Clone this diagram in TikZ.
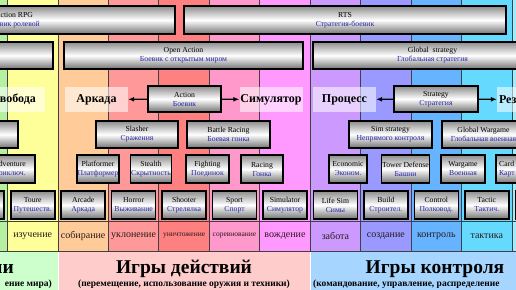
\documentclass[tikz,border=0pt]{standalone}
\usepackage{fontspec}
\setmainfont{Liberation Serif}
\usetikzlibrary{arrows.meta}
\definecolor{cm1}{HTML}{B4F0A0}
\definecolor{c0}{HTML}{FFFF99}
\definecolor{c1}{HTML}{FFCC99}
\definecolor{c2}{HTML}{FF9999}
\definecolor{c3}{HTML}{FF8080}
\definecolor{c4}{HTML}{FF99CC}
\definecolor{c5}{HTML}{FF99FF}
\definecolor{c6}{HTML}{CC99FF}
\definecolor{c7}{HTML}{9999FF}
\definecolor{c8}{HTML}{66B3FF}
\definecolor{c9}{HTML}{66D9FF}
\definecolor{c10}{HTML}{99EEFF}
\definecolor{bgreen}{HTML}{CCFFCC}
\definecolor{bpink}{HTML}{FFCCCC}
\definecolor{bblue}{HTML}{A6D6FF}
\definecolor{rublue}{RGB}{40,40,170}
\definecolor{lbltext}{HTML}{2A1A1A}
\newcommand\rtx[1]{\textcolor{rublue}{#1}}
\newcommand\gb[6]{\node[gbox, minimum width={(#3)-(#2)}, minimum height=#5] (#1) at ({((#2)+(#3))/2},#4) {#6};}
\tikzset{
 gbox/.style={draw=black, line width=1.6pt, top color=black!45, bottom color=black!55, middle color=white, align=center, inner xsep=0.5pt, inner ysep=0pt, font=\fontsize{7.7}{9}\selectfont},
 lbl/.style={fill=white, fill opacity=0.55, text opacity=1, font=\bfseries\fontsize{12}{14}\selectfont, inner sep=0pt, minimum width=63, minimum height=25},
 collbl/.style={font=\fontsize{10}{12}\selectfont, text=lbltext, inner sep=0pt},
 colline/.style={draw=black!75, line width=0.8pt},
 arr/.style={-{Latex[length=6pt,width=5pt]}, line width=1.2pt},
 bigt/.style={font=\bfseries\fontsize{19.5}{22}\selectfont, inner sep=0pt, anchor=base},
 subt/.style={font=\bfseries\fontsize{9.5}{11}\selectfont, inner sep=0pt, anchor=base},
}
\begin{document}
\begin{tikzpicture}[x=1pt,y=-1pt]
\useasboundingbox (0,0) rectangle (516,289);
\clip (0,0) rectangle (516,289);
% column fills
\fill[cm1] (-50,0) rectangle (7.5,251);
\foreach \k/\c in {0/c0,1/c1,2/c2,3/c3,4/c4,5/c5,6/c6,7/c7,8/c8,9/c9}
  \fill[\c] ({7.5+50.45*\k},0) rectangle ({7.5+50.45*(\k+1)},251);
\fill[c10] (512,0) rectangle (570,251);
% bottom bands
\fill[bgreen] (-10,251) rectangle (57.5,295);
\fill[bpink] (58.5,251) rectangle (309.7,295);
\fill[bblue] (310.7,251) rectangle (570,295);
% grid lines
\foreach \k in {0,...,10}
  \draw[colline] ({7.5+50.45*\k},-5) -- ({7.5+50.45*\k},251);
\draw[colline] (-5,221) -- (520,221);
\draw[colline] (-5,251) -- (520,251);
% row 1
\gb{actionrpg}{-147}{175}{20}{28}{Action RPG\\\rtx{Боевик ролевой}}
\gb{rts}{184}{506}{20}{28}{RTS\\\rtx{Стратегия-боевик}}
% row 2
\gb{leftopen}{-150}{53}{55.5}{27}{}
\gb{openaction}{64}{303}{55.5}{27}{Open Action\\\rtx{Боевик с открытым миром}}
\gb{globalstr}{313}{552}{55.5}{27}{Global\ \ strategy\\\rtx{Глобальная стратегия}}
% row 3
\gb{action}{148}{221}{99}{26}{Action\\\rtx{Боевик}}
\gb{strategy}{394}{478}{99}{26}{Strategy\\\rtx{Стратегия}}
\node[lbl] (svoboda) at (13.5,99.5) {Свобода};
\node[lbl] (arkada) at (96.5,99.5) {Аркада};
\node[lbl] (simul) at (271,99.5) {Симулятор};
\node[lbl] (process) at (344.5,99.5) {Процесс};
\node[lbl, text width=59, align=left] (rez) at (528.5,99.5) {Рез};
\draw[arr] (action) -- (arkada);
\draw[arr] (action) -- (simul);
\draw[arr] (strategy) -- (process);
\draw[arr] (strategy) -- (rez);
% row 4
\gb{leftr4}{-65}{18}{134.5}{27}{}
\gb{slasher}{96}{178}{134.5}{27}{Slasher\\\rtx{Сражения}}
\gb{battleracing}{187}{270}{134.5}{27}{Battle Racing\\\rtx{Боевая гонка}}
\gb{simstrategy}{349}{432}{134.5}{27}{Sim strategy\\\rtx{Непрямого контроля}}
\gb{globalwargame}{442}{525}{134.5}{27}{Global Wargame\\\rtx{Глобальная военная}}
% row 5
\gb{adventure}{-16}{35}{169}{28}{Adventure\\\rtx{Приключ.}}
\gb{platformer}{77}{119}{169}{28}{Platformer\\\rtx{Платформер}}
\gb{stealth}{131}{171}{169}{28}{Stealth\\\rtx{Скрытность}}
\gb{fighting}{186}{229}{169}{28}{Fighting\\\rtx{Поединок}}
\gb{racing}{241}{283}{169}{28}{Racing\\\rtx{Гонка}}
\gb{economic}{329}{367}{169}{28}{Economic\\\rtx{Эконом.}}
\gb{towerdef}{382}{429}{169}{28}{Tower Defense\\\rtx{Башни}}
\gb{wargame}{441}{485}{169}{28}{Wargame\\\rtx{Военная}}
\gb{card}{496}{560}{169}{28}{}
\node[font=\fontsize{7.7}{9}\selectfont, align=left, anchor=west, inner sep=0pt] (cardtxt) at (499,169) {Card\\\rtx{Карт}};
% row 6
\gb{leftr6}{-40}{4}{205}{28}{}
\foreach \k/\n/\t in {0/toure/{Toure\\\rtx{Путешеств.}},1/arcade/{Arcade\\\rtx{Аркада}},2/horror/{Horror\\\rtx{Выживание}},3/shooter/{Shooter\\\rtx{Стрелялка}},4/sport/{Sport\\\rtx{Спорт}},5/simulator/{Simulator\\\rtx{Симулятор}},6/lifesim/{Life Sim\\\rtx{Симы}},7/build/{Build\\\rtx{Строител.}},8/control/{Control\\\rtx{Полковод.}},9/tactic/{Tactic\\\rtx{Тактич.}}}
  \node[gbox, minimum width=44, minimum height=28] (\n) at ({7.5+50.45*(\k+0.5)},205) {\t};
\gb{rightr6}{515.5}{560}{205}{28}{}
% row 7 column labels
\foreach \k/\n/\t in {0/l0/изучение,1/l1/собирание,2/l2/уклонение,5/l5/вождение,6/l6/забота,7/l7/создание,8/l8/контроль,9/l9/тактика}
  \node[collbl] (\n) at ({7.5+50.45*(\k+0.5)},236) {\t};
\node[collbl, font=\fontsize{7.5}{9}\selectfont] (l3) at ({7.5+50.45*3.5},236) {уничтожение};
\node[collbl, font=\fontsize{7.5}{9}\selectfont] (l4) at ({7.5+50.45*4.5},236) {соревнование};
% bottom group labels
\node[bigt, anchor=base east] (gleft) at (14,273) {ии};
\node[subt, anchor=base east] (sleft) at (52,286) {ение мира)};
\node[bigt] (gaction) at (184,273) {Игры действий};
\node[subt] (saction) at (184,286) {(перемещение, использование оружия и техники)};
\node[bigt] (gcontrol) at (435,273) {Игры контроля};
\node[subt, anchor=base west] (scontrol) at (313,286) {(командование, управление, распределение};
\end{tikzpicture}
\end{document}
